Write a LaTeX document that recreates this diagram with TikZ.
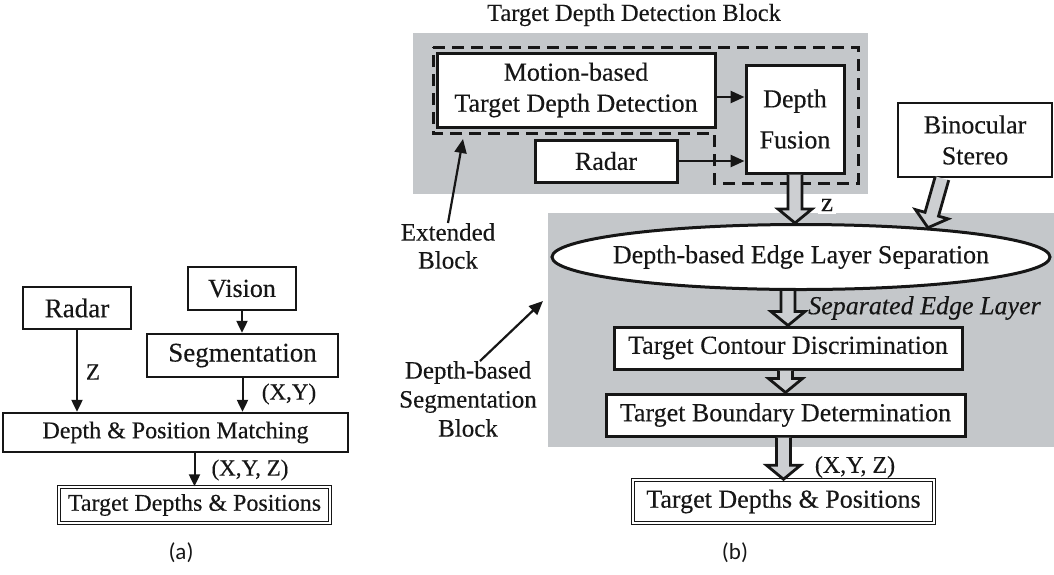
\documentclass[tikz,border=0pt]{standalone}
\usepackage{fontspec}
\setmainfont{Liberation Serif}[FakeBold=0.3]
\newfontfamily\capfont{Carlito}
\usetikzlibrary{arrows.meta,calc,shapes.geometric}

\definecolor{blockgray}{RGB}{196,199,202}
\definecolor{ink}{RGB}{22,22,22}

% wide hollow arrow from #1 to #2 (tail left open)
\newcommand\hollowarrow[2]{%
  \path (#1) coordinate (ha-s) (#2) coordinate (ha-e);
  \path ($(ha-e)!14pt!(ha-s)$) coordinate (ha-n);
  \filldraw[fatarrow]
    ($(ha-s)!7pt!90:(ha-e)$) -- ($(ha-n)!7pt!90:(ha-e)$) --
    ($(ha-n)!17pt!90:(ha-e)$) -- (ha-e) --
    ($(ha-n)!17pt!-90:(ha-e)$) -- ($(ha-n)!7pt!-90:(ha-e)$) --
    ($(ha-s)!7pt!-90:(ha-e)$);
}

\tikzset{
  every node/.style={text=ink},
  abox/.style={draw=ink, line width=2.3pt, fill=white, inner sep=0pt,
               align=center, font=\fontsize{24}{28}\selectfont},
  bbox/.style={draw=ink, line width=3pt, fill=white, inner sep=0pt,
               align=center, font=\fontsize{26}{31}\selectfont},
  outbox/.style={draw=ink, double=white, double distance=1.4pt, line width=1.3pt,
               inner sep=0pt, font=\fontsize{24}{28}\selectfont},
  thinarr/.style={draw=ink, line width=2pt, -{Triangle[length=12pt,width=11pt]}},
  thickarr/.style={draw=ink, line width=2.6pt, -{Triangle[length=14pt,width=12pt]}},
  fatarrow/.style={draw=ink, line width=2.8pt, fill=blockgray!85, line join=miter},
  lbl/.style={inner sep=0pt, font=\fontsize{23}{27}\selectfont},
  note/.style={inner sep=0pt, align=center, font=\fontsize{25}{28}\selectfont},
  caption/.style={inner sep=0pt, font=\capfont\fontsize{23}{27}\selectfont},
  panel/.style={fill=blockgray},
  extended/.style={draw=ink, line width=3pt, dash pattern=on 12pt off 7pt},
}

\begin{document}
\begin{tikzpicture}[x=1pt,y=-1pt]
\useasboundingbox (0,0) rectangle (1054,574);

% ---------------- (a) ----------------
\node[abox, font=\fontsize{27}{30}\selectfont, minimum width=108pt, minimum height=42pt] (radarA) at (77,308) {Radar};
\node[abox, font=\fontsize{26}{30}\selectfont, minimum width=108pt, minimum height=43pt] (vision) at (242,288.5) {Vision};
\node[abox, font=\fontsize{27}{30}\selectfont, minimum width=191pt, minimum height=43pt] (seg) at (242.5,355.5) {Segmentation};
\node[abox, minimum width=345pt, minimum height=39pt] (dpm) at (175.5,432.5) {Depth \& Position Matching};
\node[outbox, minimum width=271pt, minimum height=36pt] (tdpA) at (194.5,505) {Target Depths \& Positions};

\draw[thinarr] (radarA.south) -- (radarA.south |- dpm.north);
\draw[thinarr] (vision.south) -- (vision.south |- seg.north);
\draw[thinarr] (seg.south) -- (seg.south |- dpm.north);
\draw[thinarr] (tdpA.north |- dpm.south) -- (tdpA.north);

\node[lbl] (zA) at (93,372) {Z};
\node[lbl] (xyA) at (289,394) {(X,Y)};
\node[lbl] (xyzA) at (250,470) {(X,Y, Z)};
\node[caption] (capA) at (181,553) {(a)};

% ---------------- (b) ----------------
\fill[panel] (413,33) rectangle (868,194);
\fill[panel] (548,213) rectangle (1054,447);
\draw[extended] (433,47) -- (858,47) -- (858,183) -- (714,183) -- (714,133) -- (433,133) -- cycle;

\node[inner sep=0pt, font=\fontsize{24.5}{28}\selectfont] (title) at (634,15) {Target Depth Detection Block};

\node[bbox, minimum width=278pt, minimum height=74pt] (motion) at (576,90) {Motion-based\\Target Depth Detection};
\node[bbox, minimum width=142pt, minimum height=42pt] (radarB) at (606,161) {Radar};
\node[bbox, minimum width=98pt, minimum height=108pt] (fusion) at (795,119) {Depth\\[10pt]Fusion};
\node[bbox, line width=2.4pt, minimum width=154pt, minimum height=74pt] (bino) at (975,140) {Binocular\\Stereo};
\node[bbox, ellipse, minimum width=498pt, minimum height=65pt] (sep) at (801,257) {\makebox[0pt]{Depth-based Edge Layer Separation}};
\node[bbox, minimum width=348pt, minimum height=42pt] (contour) at (788,348) {Target Contour Discrimination};
\node[bbox, minimum width=359pt, minimum height=42pt] (boundary) at (785.5,415) {Target Boundary Determination};
\node[outbox, line width=1.5pt, font=\fontsize{26}{30}\selectfont, minimum width=301pt, minimum height=43pt] (tdpB) at (783.5,501.5) {Target Depths \& Positions};

\draw[thickarr] ($(motion.east)+(0,7)$) -- ($(fusion.west)+(0,-22)$);
\draw[thickarr] (radarB.east) -- (radarB.east -| fusion.west);

\node[inner sep=3pt, fill=white, font=\fontsize{27}{30}\selectfont] (zB) at (827,205) {z};
\hollowarrow{fusion.south}{fusion.south |- sep.north}
\hollowarrow{$(bino.south)+(-33,0)$}{sep.13}
\hollowarrow{contour.north |- sep.south}{contour.north}
\hollowarrow{boundary.north |- contour.south}{boundary.north}
\hollowarrow{tdpB.north |- boundary.south}{tdpB.north}

\node[inner sep=0pt, anchor=west, font=\itshape\fontsize{26}{30}\selectfont] (sepl) at (808,308) {Separated Edge Layer};
\node[lbl, font=\fontsize{24}{28}\selectfont] (xyzB) at (855,467) {(X,Y, Z)};

\node[note] (extl) at (448,246) {Extended\\Block};
\coordinate (extTip) at (463,139);
\draw[thickarr, line width=2.2pt] (extl.north) -- (extTip);

\node[note, font=\fontsize{25}{29}\selectfont] (segl) at (468,399) {Depth-based\\Segmentation\\Block};
\coordinate (segTip) at (543,301);
\draw[thickarr, line width=2.2pt] ([xshift=12pt]segl.north) -- (segTip);

\node[caption] (capB) at (735,553) {(b)};
\end{tikzpicture}
\end{document}
